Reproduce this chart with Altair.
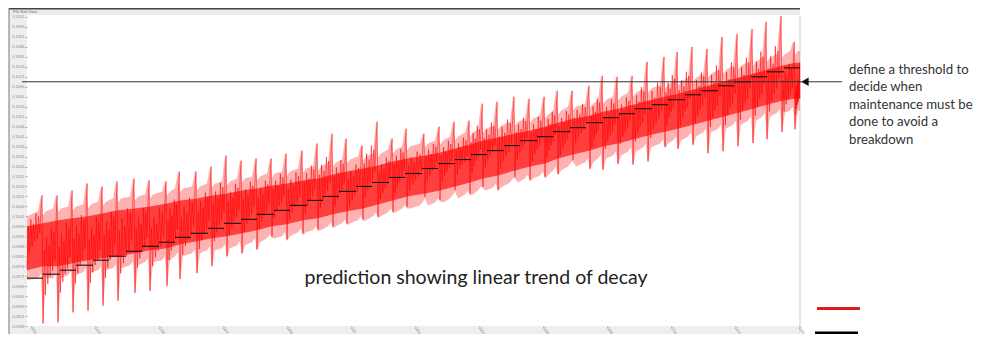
import altair as alt
import pandas as pd

# ---------------- data (arbitrary signal units) ----------------
# sample index of each sharp drop (trough) of the sawtooth signal
trough_t = [16, 31, 46, 61, 76, 91, 108, 123, 140, 153, 170, 185, 200, 215, 230, 245, 260,
            276, 291, 306, 320, 336, 351, 366, 380, 398, 413, 428, 443, 456, 471, 488, 503,
            518, 531, 546, 563, 576, 591, 606, 621, 638, 651, 666, 681, 696, 711, 726, 740,
            755, 768]
trough_v = [0, 1, 11, 13, 18, 23, 31, 33, 38, 45, 51, 58, 68, 71, 75, 88, 85, 91, 95, 98,
            101, 105, 108, 113, 118, 128, 125, 135, 131, 138, 135, 148, 145, 148, 151, 165,
            156, 155, 161, 160, 163, 178, 176, 180, 171, 173, 178, 181, 185, 193, 196]
# highest spike just before each drop
peak_v = [131, 131, 136, 143, 140, 145, 148, 146, 145, 155, 155, 160, 171, 166, 168, 168,
          173, 176, 183, 193, 188, 181, 205, 188, 198, 193, 200, 205, 206, 223, 225, 230,
          228, 230, 236, 236, 241, 251, 250, 251, 265, 270, 275, 280, 278, 290, 293, 298,
          305, 311, 285]
# dense core of the signal (start, each cycle, end)
core_top = [100, 103, 106, 108, 110, 113, 116, 118, 120, 123, 126, 128, 131, 133, 136, 138,
            141, 143, 146, 148, 152, 155, 158, 161, 165, 168, 171, 174, 178, 182, 186, 189,
            193, 196, 200, 204, 208, 211, 215, 218, 222, 226, 230, 233, 237, 241, 245, 249,
            253, 257, 261, 264]
core_bot = [56, 60, 60, 63, 66, 68, 70, 73, 76, 78, 82, 85, 88, 90, 93, 96, 100, 102, 106,
            108, 112, 115, 118, 122, 126, 130, 133, 136, 140, 144, 148, 151, 156, 160, 163,
            168, 172, 176, 180, 183, 187, 191, 195, 198, 202, 206, 210, 214, 218, 222, 226, 228]
# typical shape of one cycle (position within the cycle, level between drop and peak)
cycle_pos = [0.00, 0.08, 0.16, 0.24, 0.32, 0.40, 0.48, 0.56, 0.64, 0.72, 0.80, 0.88, 0.94]
cycle_lvl = [0.02, 0.58, 0.24, 0.68, 0.32, 0.62, 0.38, 0.76, 0.42, 0.72, 0.50, 0.84, 1.00]
# stepped linear trend
step_edges = [0, 16, 33, 49, 66, 82, 99, 115, 132, 148, 164, 181, 197, 214, 230, 247, 263,
              280, 296, 312, 329, 345, 362, 378, 395, 411, 428, 444, 460, 477, 493, 510, 526,
              543, 559, 576, 592, 608, 625, 641, 658, 674, 691, 707, 724, 740, 757, 773]
trend_v = [48, 52, 56, 61, 66, 70, 75, 80, 84, 89, 93, 98, 103, 107, 112, 116, 121, 126, 130,
           135, 140, 144, 149, 153, 158, 163, 167, 172, 176, 181, 186, 190, 195, 199, 204, 209,
           213, 218, 222, 227, 232, 236, 241, 245, 250, 255, 259]
threshold_v = 245
note_lines = ["define a threshold to", "decide when", "maintenance must be",
              "done to avoid a", "breakdown"]
note_v = [257, 240, 222, 205, 187]
caption = "prediction showing linear trend of decay"
x_ticks = list(range(4, 773, 8))

X_DOM = [0, 773]
Y_DOM = [0, 312]

# ---------------- tables ----------------
outer = [(0, core_bot[0] - 10, core_top[0] + 10)]
core = [(0, core_bot[0], core_top[0])]
for i, t in enumerate(trough_t):
    c = i + 1
    outer += [(t - 5, core_bot[c] - 12, core_top[c] + 12),
              (t - 2, core_bot[c] - 8, peak_v[i]),
              (t, trough_v[i], core_top[c] + 8),
              (t + 3, core_bot[c] - 12, core_top[c] + 12)]
    core.append((t, core_bot[c], core_top[c]))
outer.append((773, core_bot[-1] - 12, core_top[-1] + 12))
core.append((773, core_bot[-1], core_top[-1]))

# zig-zag trace of the signal built from each cycle's drop and peak
starts = [0] + trough_t
lows = [core_bot[0]] + trough_v
ends = trough_t + [773]
highs = peak_v + [core_top[-1]]
zig = []
for s, e, lo, hi in zip(starts, ends, lows, highs):
    for p, l in zip(cycle_pos, cycle_lvl):
        zig.append((s + p * (e - s), lo + l * (hi - lo)))
zig.append((773, core_bot[-1]))

outer_df = pd.DataFrame(outer, columns=["t", "lo", "hi"])
core_df = pd.DataFrame(core, columns=["t", "lo", "hi"])
zig_df = pd.DataFrame(zig, columns=["t", "v"])
trend_df = pd.DataFrame({"t": step_edges[:-1], "t2": step_edges[1:], "v": trend_v})
note_df = pd.DataFrame({"t": [822] * len(note_lines), "v": note_v, "txt": note_lines})
one = pd.DataFrame({"a": [0]})

xs = alt.Scale(domain=X_DOM, nice=False, zero=False)
ys = alt.Scale(domain=Y_DOM, nice=False, zero=False)

x_axis = alt.Axis(values=x_ticks, labelAngle=55, labelAlign="left", labelBaseline="middle",
                  labelFontSize=3.5, labelColor="#777", tickSize=1, tickColor="#aaa",
                  domain=False, grid=False, title=None, zindex=1, labelPadding=0,
                  labelOverlap=False, labelFlush=False,
                  labelExpr="timeFormat(datetime(2014, 0, 1 + datum.value), '%d%m')")
y_axis = alt.Axis(tickCount=31, labelFontSize=4, labelColor="#888", tickSize=2,
                  tickColor="#aaa", domain=False, grid=False, title=None, zindex=1,
                  labelPadding=1, labelOverlap=False, labelFlush=False,
                  labelExpr="format(0.0946 + datum.value * 0.00005, '.4f')")

# decorative frame of the original software window
panel_left = alt.Chart(one).mark_rect(color="#eeeeee").encode(
    x=alt.value(-18), x2=alt.value(0), y=alt.value(-7), y2=alt.value(330))
panel_bottom = alt.Chart(one).mark_rect(color="#eeeeee").encode(
    x=alt.value(-18), x2=alt.value(773), y=alt.value(311), y2=alt.value(330))
toolbar = alt.Chart(one).mark_rect(color="#ebebeb").encode(
    x=alt.value(-18), x2=alt.value(773), y=alt.value(-7), y2=alt.value(0))
top_line = alt.Chart(one).mark_rule(color="#444", strokeWidth=1.5).encode(
    x=alt.value(-18), x2=alt.value(773), y=alt.value(-6.3))
left_line = alt.Chart(one).mark_rule(color="#777", strokeWidth=1).encode(
    x=alt.value(-18), y=alt.value(-7), y2=alt.value(330))
right_line = alt.Chart(one).mark_rule(color="#cfcfcf", strokeWidth=1).encode(
    x=alt.value(773), y=alt.value(0), y2=alt.value(330))
menu = alt.Chart(one).mark_text(text="File   Edit View", fontSize=4, color="#777",
                                align="left", baseline="middle").encode(
    x=alt.value(-14), y=alt.value(-3))

outer_area = alt.Chart(outer_df).mark_area(color="#ff0000", opacity=0.3).encode(
    x=alt.X("t:Q", scale=xs, axis=x_axis), y=alt.Y("lo:Q", scale=ys, axis=y_axis), y2="hi:Q")
core_area = alt.Chart(core_df).mark_area(color="#ff0000", opacity=0.65).encode(
    x=alt.X("t:Q", scale=xs), y=alt.Y("lo:Q", scale=ys), y2="hi:Q")
zig_line = alt.Chart(zig_df).mark_line(color="#ff0000", strokeWidth=0.9, opacity=0.6).encode(
    x=alt.X("t:Q", scale=xs), y=alt.Y("v:Q", scale=ys))
trend = alt.Chart(trend_df).mark_rule(color="#111", strokeWidth=1.1).encode(
    x=alt.X("t:Q", scale=xs), x2="t2:Q", y=alt.Y("v:Q", scale=ys))

thr_df = pd.DataFrame({"t": [-5], "t2": [815], "v": [threshold_v]})
threshold = alt.Chart(thr_df).mark_rule(color="#333", strokeWidth=1).encode(
    x=alt.X("t:Q", scale=xs), x2="t2:Q", y=alt.Y("v:Q", scale=ys))
arrow_df = pd.DataFrame({"t": [778], "v": [threshold_v]})
arrow = alt.Chart(arrow_df).mark_point(shape="triangle-left", filled=True, color="#111",
                                       size=70, opacity=1).encode(
    x=alt.X("t:Q", scale=xs), y=alt.Y("v:Q", scale=ys))

note = alt.Chart(note_df).mark_text(align="left", baseline="middle", font="Lato",
                                    fontSize=13.2, color="#333").encode(
    x=alt.X("t:Q", scale=xs), y=alt.Y("v:Q", scale=ys), text="txt:N")
cap_df = pd.DataFrame({"t": [449], "v": [48], "txt": [caption]})
cap = alt.Chart(cap_df).mark_text(align="center", baseline="middle", font="Lato",
                                  fontSize=19.5, color="#222").encode(
    x=alt.X("t:Q", scale=xs), y=alt.Y("v:Q", scale=ys), text="txt:N")

leg_df = pd.DataFrame({"t": [790, 788], "t2": [833, 831], "v": [17.5, -7],
                       "c": ["#e31a1c", "#000000"]})
legend = alt.Chart(leg_df).mark_rule(strokeWidth=3).encode(
    x=alt.X("t:Q", scale=xs), x2="t2:Q", y=alt.Y("v:Q", scale=ys),
    color=alt.Color("c:N", scale=None))

chart = alt.layer(
    panel_left, panel_bottom, toolbar, top_line, left_line, right_line, menu,
    outer_area, core_area, zig_line, trend, threshold, arrow, note, cap, legend
).properties(
    width=773, height=311,
    autosize=alt.AutoSizeParams(type="none"),
    padding={"left": 19, "right": 175, "top": 7, "bottom": 8},
    background="white",
).configure_view(stroke=None)

chart.save("out.html", embed_options={"renderer": "svg", "actions": False})
